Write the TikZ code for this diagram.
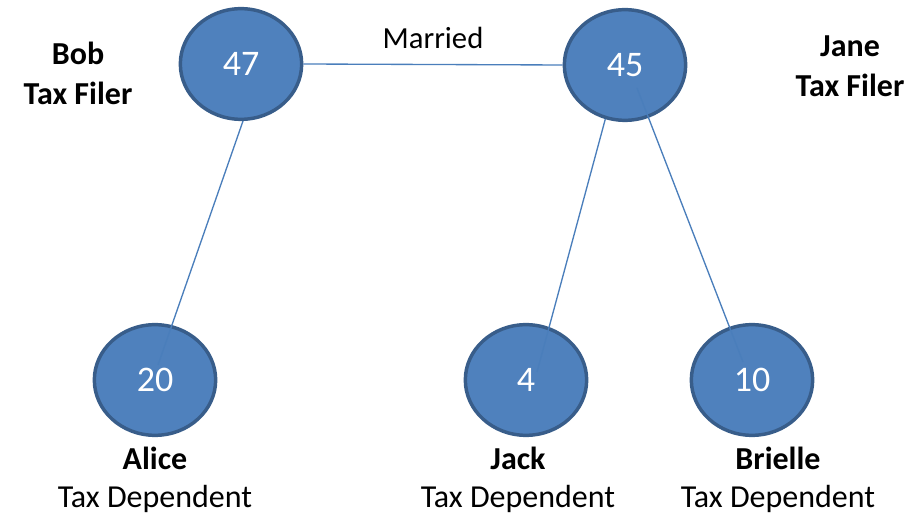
\documentclass[tikz,border=0pt]{standalone}
\usepackage{fontspec}
\setmainfont{Carlito}
\usetikzlibrary{shapes.geometric}

\definecolor{nodeblue}{HTML}{4F81BD}
\definecolor{edgeblue}{HTML}{385D8A}
\definecolor{linkblue}{HTML}{4A7EBB}

\tikzset{
  person/.style={ellipse, draw=edgeblue, fill=nodeblue, line width=2.6pt,
    minimum width=91pt, minimum height=83pt, text=white,
    font=\fontsize{27}{30}\selectfont},
  link/.style={draw=linkblue, line width=1pt},
  who/.style={align=center, font=\fontsize{24}{30}\selectfont},
  kid/.style={align=center, font=\fontsize{24}{28}\selectfont}
}

\begin{document}
\begin{tikzpicture}[x=0.75pt,y=-0.75pt]
\useasboundingbox (0,0) rectangle (908,516);

% people
\node[person] (n47) at (241,64) {47};
\node[person] (n45) at (625,65) {45};
\node[person] (n20) at (155,380) {20};
\node[person] (n4) at (526,380) {4};
\node[person] (n10) at (752,380) {10};

% labels
\node[who] (bob) at (78,73) {\textbf{Bob}\\\textbf{Tax Filer}};
\node[who] (jane) at (850,66) {\textbf{Jane}\\\textbf{Tax Filer}};
\node[kid] (alice) at (155,480) {\textbf{Alice}\\Tax Dependent};
\node[kid] (jack) at (518,480) {\textbf{Jack}\\Tax Dependent};
\node[kid] (brielle) at (778,480) {\textbf{Brielle}\\Tax Dependent};

% line ends
\coordinate (a20) at (158,365);
\coordinate (a4) at (537,372);
\coordinate (b45) at (637,88);
\coordinate (a10) at (743,362);

% links
\draw[link] (n47.east) -- node[above=8pt, font=\fontsize{23}{28}\selectfont] (married) {Married} (n45.west);
\draw[link] (n47.272) -- (a20);
\draw[link] (n45.250) -- (a4);
\draw[link] (b45) -- (a10);
\end{tikzpicture}
\end{document}
